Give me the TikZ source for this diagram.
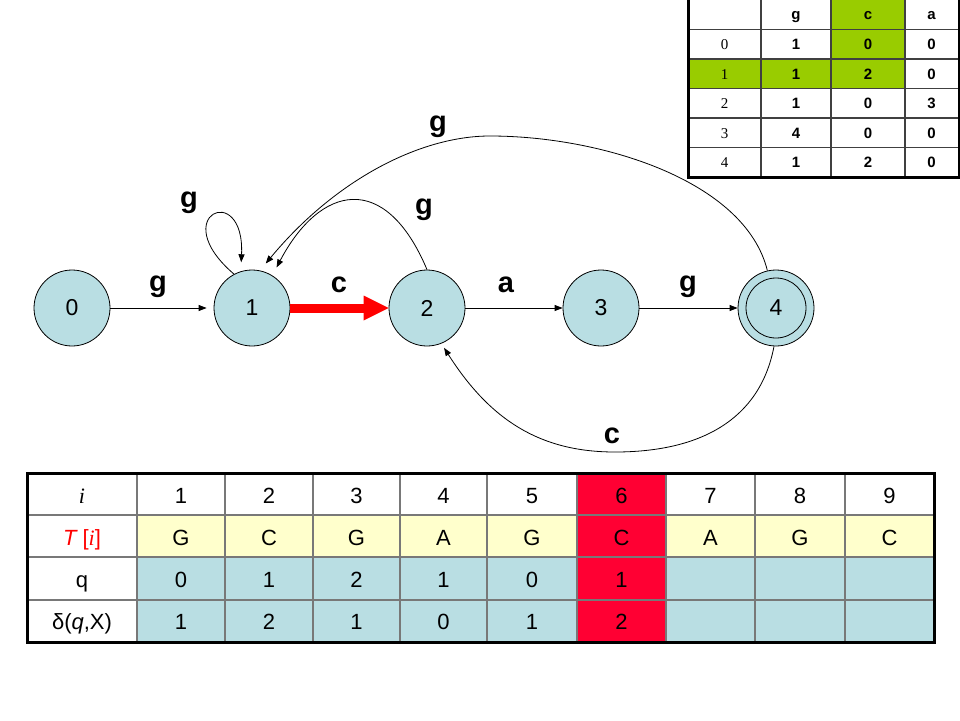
\documentclass[tikz,border=0pt]{standalone}
\usepackage{fontspec}
\setmainfont{Liberation Sans}
\newfontfamily\tnr{Liberation Serif}
\usetikzlibrary{arrows.meta}
\definecolor{nodeblue}{RGB}{185,222,227}
\definecolor{celly}{RGB}{255,255,204}
\definecolor{cellred}{RGB}{255,0,51}
\definecolor{cellgreen}{RGB}{153,204,0}
\definecolor{gridgray}{RGB}{120,120,120}
\begin{document}
\begin{tikzpicture}[x=1pt,y=-1pt,
  state/.style={circle,draw,line width=0.8pt,fill=nodeblue,minimum size=76pt,inner sep=0pt,font=\fontsize{23}{23}\selectfont},
  arr/.style={-{Triangle[length=8pt,width=6pt]},line width=0.8pt},
  lbl/.style={anchor=base,inner sep=0pt,font=\bfseries\fontsize{29}{29}\selectfont},
  cell/.style={anchor=base,inner sep=0pt,font=\fontsize{22}{22}\selectfont},
  small/.style={anchor=base,inner sep=0pt,font=\bfseries\fontsize{15}{15}\selectfont},
  smallser/.style={anchor=base,inner sep=0pt,font=\tnr\fontsize{15}{15}\selectfont},
  grid line/.style={draw=gridgray,line width=1.3pt},
]
\useasboundingbox (0,0) rectangle (960,720);
\fill[white] (0,0) rectangle (960,720);

% states
\node[state] (n0) at (72,308) {0};
\node[state] (n1) at (252,308) {1};
\node[state] (n2) at (427,308) {2};
\node[state] (n3) at (601,308) {3};
\node[state] (n4) at (776,308) {};
\node[circle,draw,line width=0.8pt,minimum size=60pt,inner sep=0pt,font=\fontsize{23}{23}\selectfont] (n4in) at (n4) {4};

% transitions
\draw[arr,shorten >=7pt] (n0) -- (n1);
\draw[red,line width=9pt,-{Triangle[length=25pt,width=25pt,line width=0pt]}] (n1) -- (n2);
\draw[arr] (n2) -- (n3);
\draw[arr] (n3) -- (n4);
\draw[arr,shorten >=9pt] (n1.118) .. controls (165,215) and (245,180) .. (n1.107);
\draw[arr,shorten >=9pt] (n2.90) .. controls (385,170) and (320,185) .. (n1.58);
\coordinate (top) at (490,136);
\draw[arr,shorten >=9pt] (n4.103) .. controls (745,180) and (600,136) .. (top) .. controls (420,136) and (335,180) .. (n1.78);
\coordinate (bot) at (615,452);
\draw[arr,shorten >=5pt] (n4.267) .. controls (760,420) and (700,452) .. (bot) .. controls (540,452) and (490,420) .. (n2.292);

% labels
\node[lbl] (l01) at (158,291) {g};
\node[lbl] (l12) at (339,292) {c};
\node[lbl] (l23) at (506,292) {a};
\node[lbl] (l34) at (688,291) {g};
\node[lbl] (lloop) at (189,207) {g};
\node[lbl] (l21) at (424,214) {g};
\node[lbl] (l41) at (438,131) {g};
\node[lbl] (l42) at (612,443) {c};

% transition table (top right)
\fill[white] (688,-2) rectangle (959,177);
\fill[cellgreen] (831,-2) rectangle (905,59);
\fill[cellgreen] (688,59) rectangle (905,88.5);
\foreach \yy in {29.5,59,88.5,118,147.5} \draw[grid line,draw=black!75] (688,\yy) -- (959,\yy);
\foreach \xx in {761,831,905} \draw[grid line,draw=black!75] (\xx,-2) -- (\xx,177);
\draw[line width=3pt] (688,-2) rectangle (959,177);
\node[small] (hg) at (796,19.5) {g};
\node[small] (hc) at (868,19.5) {c};
\node[small] (ha) at (931.5,19.5) {a};
\foreach \r/\yb/\a/\b/\c in {0/49.6/1/0/0, 1/79.1/1/2/0, 2/108.6/1/0/3, 3/138.1/4/0/0, 4/167.4/1/2/0} {
  \node[smallser] (r\r) at (724.5,\yb) {\r};
  \node[small] (r\r-g) at (796,\yb) {\a};
  \node[small] (r\r-c) at (868,\yb) {\b};
  \node[small] (r\r-a) at (931.5,\yb) {\c};
}

% text table (bottom)
\foreach \xl/\xr in {137/225,225/313,313/400,400/487,487/577,577/666,666/755,755/845,845/934} {
  \fill[celly] (\xl,515) rectangle (\xr,557);
  \fill[nodeblue] (\xl,557) rectangle (\xr,642);
}
\fill[cellred] (577,473) rectangle (666,642);
\foreach \yy in {515,557,600} \draw[grid line] (27,\yy) -- (934,\yy);
\foreach \xx in {137,225,313,400,487,577,666,755,845} \draw[grid line] (\xx,473) -- (\xx,642);
\draw[line width=3pt] (27,473) rectangle (934,642);

\node[cell] (li) at (82,503) {\tnr\itshape i};
\node[cell,text=red] (lT) at (82,545) {\itshape T\upshape\ [{\tnr\itshape i}]};
\node[cell] (lq) at (82,587) {q};
\node[cell] (ld) at (82,629) {δ(\textit{q},X)};
\foreach \c/\xl/\xr/\t/\q/\d in {1/137/225/G/0/1, 2/225/313/C/1/2, 3/313/400/G/2/1, 4/400/487/A/1/0, 5/487/577/G/0/1, 6/577/666/C/1/2, 7/666/755/A//, 8/755/845/G//, 9/845/934/C//} {
  \node[cell] (h\c) at ({(\xl+\xr)/2},503) {\c};
  \node[cell] (t\c) at ({(\xl+\xr)/2},545) {\t};
  \node[cell] (q\c) at ({(\xl+\xr)/2},587) {\q};
  \node[cell] (d\c) at ({(\xl+\xr)/2},629) {\d};
}
\end{tikzpicture}
\end{document}
